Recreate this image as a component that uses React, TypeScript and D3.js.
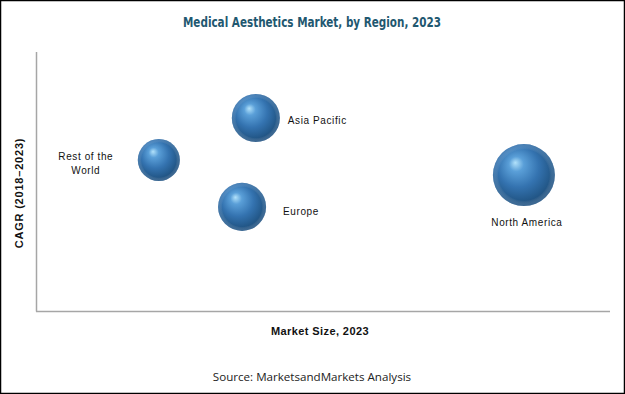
import React from "react";
import * as d3 from "d3";

const regions = ["Rest of the World", "Europe", "Asia Pacific", "North America"];
const marketSize = [21.4, 35.9, 38.3, 85.0];
const cagr = [58.3, 40.2, 74.5, 52.5];
const bubbleSize = [46, 60, 60, 100];

const W = 625;
const H = 394;

export default function App() {
  const x = d3.scaleLinear().domain([0, 100]).range([36, 610]);
  const y = d3.scaleLinear().domain([0, 100]).range([311, 52]);
  const r = d3.scaleSqrt().domain([0, 100]).range([0, 31]);

  const labelFont = "'Liberation Sans', Arial, sans-serif";

  const labelFor = (i: number) => {
    const cx = x(marketSize[i]);
    const cy = y(cagr[i]);
    const rad = r(bubbleSize[i]);
    const name = regions[i];
    const common = {
      fontFamily: labelFont,
      fontSize: 10,
      letterSpacing: 0.6,
      fill: "#111",
    } as const;
    if (name === "Rest of the World") {
      return (
        <text key={name} {...common} textAnchor="middle">
          <tspan x={cx - rad - 52} y={cy}>Rest of the</tspan>
          <tspan x={cx - rad - 52} y={cy + 14}>World</tspan>
        </text>
      );
    }
    if (name === "North America") {
      return (
        <text key={name} {...common} textAnchor="middle" x={cx + 3} y={cy + rad + 20}>
          {name}
        </text>
      );
    }
    if (name === "Europe") {
      return (
        <text key={name} {...common} x={cx + rad + 17} y={cy + 8}>
          {name}
        </text>
      );
    }
    return (
      <text key={name} {...common} x={cx + rad + 8} y={cy + 6}>
        {name}
      </text>
    );
  };

  return (
    <div style={{ position: "absolute", left: 0, top: 0, width: W, height: H }}>
      <svg width={W} height={H} style={{ display: "block" }}>
        <defs>
          <radialGradient id="sphere" cx="0.45" cy="0.42" r="0.6" fx="0.36" fy="0.3">
            <stop offset="0" stopColor="#b2e2fb" />
            <stop offset="0.2" stopColor="#5a9fd8" />
            <stop offset="0.55" stopColor="#3473b0" />
            <stop offset="0.85" stopColor="#235889" />
            <stop offset="1" stopColor="#1c4873" />
          </radialGradient>
          <radialGradient id="rim" cx="0.5" cy="0.5" r="0.5" fx="0.5" fy="0.5">
            <stop offset="0.82" stopColor="#ffffff" stopOpacity="0" />
            <stop offset="1" stopColor="#6d9cc9" stopOpacity="0.35" />
          </radialGradient>
        </defs>
        <rect x={0.5} y={0.5} width={W - 1} height={H - 1} fill="#fff" stroke="#000" strokeWidth={1.5} />

        <text
          x={312}
          y={27}
          textAnchor="middle"
          fontFamily="'DejaVu Sans Condensed', 'Liberation Sans Narrow', sans-serif"
          fontWeight="bold"
          fontSize={14}
          textLength={258}
          lengthAdjust="spacingAndGlyphs"
          fill="#1f5870"
        >
          Medical Aesthetics Market, by Region, 2023
        </text>

        <line x1={36.5} y1={52} x2={36.5} y2={311.5} stroke="#a6a6a6" strokeWidth={1.5} />
        <line x1={36} y1={311.5} x2={610} y2={311.5} stroke="#a6a6a6" strokeWidth={1.5} />

        {regions.map((name, i) => (
          <g key={name}>
            <circle cx={x(marketSize[i])} cy={y(cagr[i])} r={r(bubbleSize[i])} fill="url(#sphere)" />
            <circle cx={x(marketSize[i])} cy={y(cagr[i])} r={r(bubbleSize[i])} fill="url(#rim)" />
          </g>
        ))}
        {regions.map((_, i) => labelFor(i))}

        <text
          transform="translate(23,193) rotate(-90)"
          textAnchor="middle"
          fontFamily={labelFont}
          fontWeight="bold"
          fontSize={11}
          letterSpacing={0.8}
          fill="#111"
        >
          CAGR (2018–2023)
        </text>
        <text
          x={320}
          y={335}
          textAnchor="middle"
          fontFamily={labelFont}
          fontWeight="bold"
          fontSize={11}
          letterSpacing={0.4}
          fill="#111"
        >
          Market Size, 2023
        </text>
        <text
          x={312}
          y={381}
          textAnchor="middle"
          fontFamily="'Open Sans', sans-serif"
          fontSize={11.6}
          fill="#222"
        >
          Source: MarketsandMarkets Analysis
        </text>
      </svg>
    </div>
  );
}
